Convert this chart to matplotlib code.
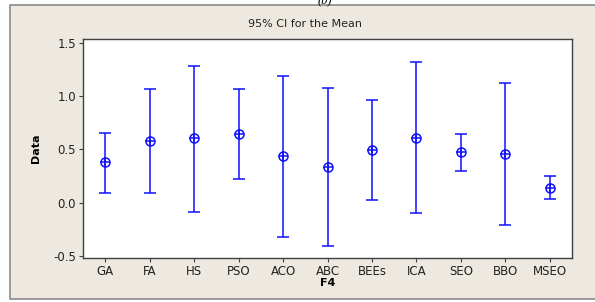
import numpy as np
import matplotlib.pyplot as plt
from matplotlib.patches import Rectangle

algos = ['GA', 'FA', 'HS', 'PSO', 'ACO', 'ABC', 'BEEs', 'ICA', 'SEO', 'BBO', 'MSEO']
means = [0.378, 0.578, 0.603, 0.644, 0.435, 0.335, 0.491, 0.609, 0.472, 0.456, 0.138]
upper = [0.656, 1.063, 1.284, 1.063, 1.190, 1.075, 0.963, 1.322, 0.641, 1.119, 0.247]
lower = [0.088, 0.094, -0.087, 0.222, -0.319, -0.412, 0.028, -0.100, 0.294, -0.212, 0.035]

W, H = 595, 302
fig = plt.figure(figsize=(W / 100, H / 100), dpi=100)
fig.patch.set_facecolor('white')

# beige panel behind the chart
panel = Rectangle((10 / W, 1 - 299 / H), 1.0, (299 - 5) / H, transform=fig.transFigure,
                  facecolor='#ede9e0', edgecolor='#8a8a8a', linewidth=1.2, zorder=-1)
fig.patches.append(panel)

ax = fig.add_axes([83 / W, 1 - 258 / H, (572 - 83) / W, (258 - 39) / H], zorder=2)
ax.set_facecolor('white')

x = np.arange(len(algos))
m = np.array(means)
lo = m - np.array(lower)
hi = np.array(upper) - m
blue = '#1010ff'
ax.errorbar(x, m, yerr=[lo, hi], fmt='none', ecolor=blue, elinewidth=1.1,
            capsize=4.5, capthick=1.1)
ax.plot(x, m, 'o', ms=6.5, mfc='none', mec=blue, mew=1.1)
ax.plot(x, m, '+', ms=6.5, mec=blue, mew=1.1)

ax.set_xlim(-0.5, 10.5)
ax.set_ylim(-0.52, 1.535)
ax.set_xticks(x)
ax.set_xticklabels(algos)
ax.set_yticks([-0.5, 0.0, 0.5, 1.0, 1.5])
ax.set_yticklabels(['-0.5', '0.0', '0.5', '1.0', '1.5'])
ax.tick_params(labelsize=8.5, length=3, color='#404040', labelcolor='#222222', pad=2)
for s in ax.spines.values():
    s.set_color('#404040')
    s.set_linewidth(1.0)

ax.set_xlabel('F4', fontsize=8, fontweight='bold', labelpad=0)
ax.set_ylabel('Data', fontsize=8, fontweight='bold', labelpad=9)

fig.text(305 / W, 1 - 24 / H, '95% CI for the Mean', fontsize=8, ha='center', va='center',
         color='#222222')
fig.text(325 / W, 1.0, '(b)', fontsize=9, ha='center', va='center',
         family='Liberation Serif', style='italic', zorder=3)

fig.savefig('out.png', dpi=100)
